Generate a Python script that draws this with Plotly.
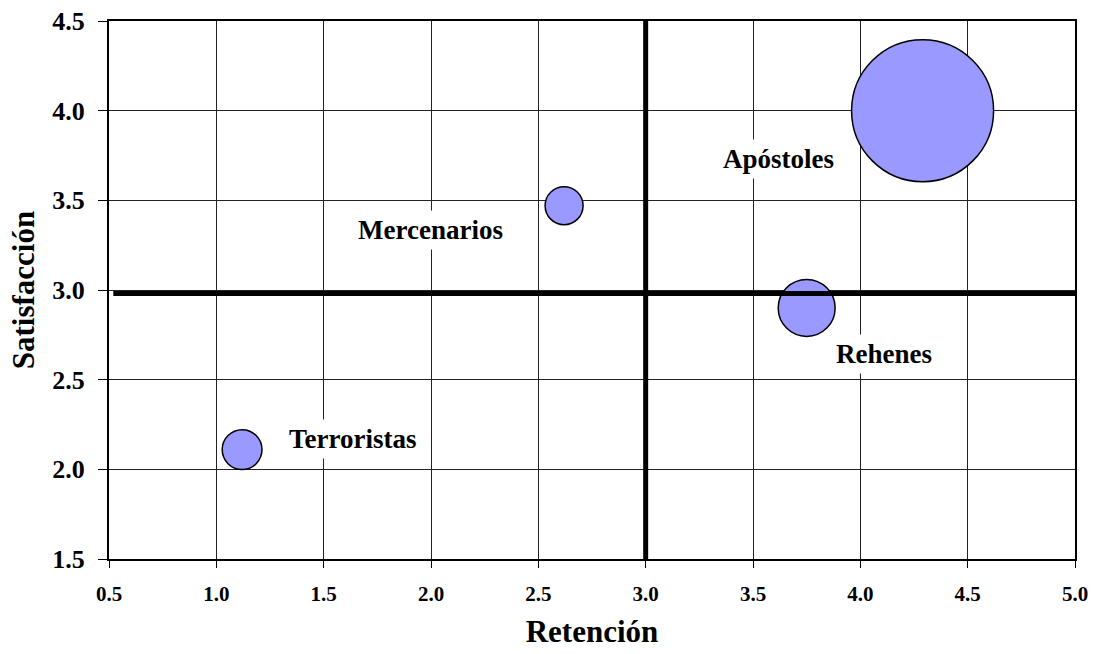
import plotly.graph_objects as go

# Segment data: retention (x), satisfaction (y) and relative weight (bubble area)
segments = ["Apóstoles", "Mercenarios", "Rehenes", "Terroristas"]
retention = [4.29, 2.62, 3.75, 1.12]
satisfaction = [4.00, 3.47, 2.90, 2.11]
weight = [14.0, 1.0, 2.25, 1.1]

# Averages that split the chart into quadrants
avg_retention = 3.0
avg_satisfaction = 2.98
avg_sat_start = 0.52

x_ticks = [0.5, 1.0, 1.5, 2.0, 2.5, 3.0, 3.5, 4.0, 4.5, 5.0]
y_ticks = [1.5, 2.0, 2.5, 3.0, 3.5, 4.0, 4.5]

FONT = "Liberation Serif, Times New Roman, serif"
BIG_DIAMETER = 142.0

fig = go.Figure()

fig.add_trace(go.Scatter(
    x=retention, y=satisfaction, mode="markers",
    marker=dict(size=weight, sizemode="area",
                sizeref=2.0 * max(weight) / BIG_DIAMETER ** 2,
                color="#9999FF", opacity=1,
                line=dict(color="black", width=1.5)),
    hoverinfo="text", text=segments, showlegend=False, cliponaxis=False,
))

# Quadrant dividers
fig.add_trace(go.Scatter(
    x=[avg_retention, avg_retention], y=[y_ticks[0], y_ticks[-1]],
    mode="lines", line=dict(color="black", width=5), showlegend=False,
    hoverinfo="skip",
))
fig.add_trace(go.Scatter(
    x=[avg_sat_start, x_ticks[-1]], y=[avg_satisfaction, avg_satisfaction],
    mode="lines", line=dict(color="black", width=5), showlegend=False,
    hoverinfo="skip",
))

# Segment labels, offset in pixels from each bubble
label_shift = {
    "Apóstoles": (-144, -48),
    "Mercenarios": (-134, -24),
    "Rehenes": (77, -46),
    "Terroristas": (111, 11),
}
for name, xv, yv in zip(segments, retention, satisfaction):
    dx, dy = label_shift[name]
    fig.add_annotation(
        x=xv, y=yv, xref="x", yref="y", text=f"<b>{name}</b>", showarrow=False,
        xshift=dx, yshift=dy, bgcolor="white", borderpad=4,
        font=dict(family=FONT, size=27, color="black"),
    )

fig.update_xaxes(
    range=[0.5, 5.0], tickvals=x_ticks, ticktext=[f"<b>{v:.1f}</b>" for v in x_ticks],
    showgrid=True, gridcolor="#222222", gridwidth=1, zeroline=False,
    showline=True, linecolor="black", linewidth=2, mirror=True,
    ticks="outside", ticklen=7, tickcolor="black", tickwidth=1,
    ticklabelstandoff=8, automargin=False,
    tickfont=dict(family=FONT, size=21, color="black"),
    title=dict(text="<b>Retención</b>", font=dict(family=FONT, size=31, color="black"), standoff=15),
)
fig.update_yaxes(
    range=[1.5, 4.5], tickvals=y_ticks, ticktext=[f"<b>{v:.1f}</b>" for v in y_ticks],
    showgrid=True, gridcolor="#222222", gridwidth=1, zeroline=False,
    showline=True, linecolor="black", linewidth=2, mirror=True,
    ticks="outside", ticklen=9, tickcolor="black", tickwidth=1,
    ticklabelstandoff=8, automargin=False,
    tickfont=dict(family=FONT, size=26, color="black"),
    title=dict(text="<b>Satisfacción</b>", font=dict(family=FONT, size=31, color="black"), standoff=8),
)

fig.update_layout(
    width=1095, height=654,
    margin=dict(l=109, r=20, t=21, b=95, autoexpand=False),
    paper_bgcolor="white", plot_bgcolor="white",
    showlegend=False,
)

fig.write_html("out.html")
